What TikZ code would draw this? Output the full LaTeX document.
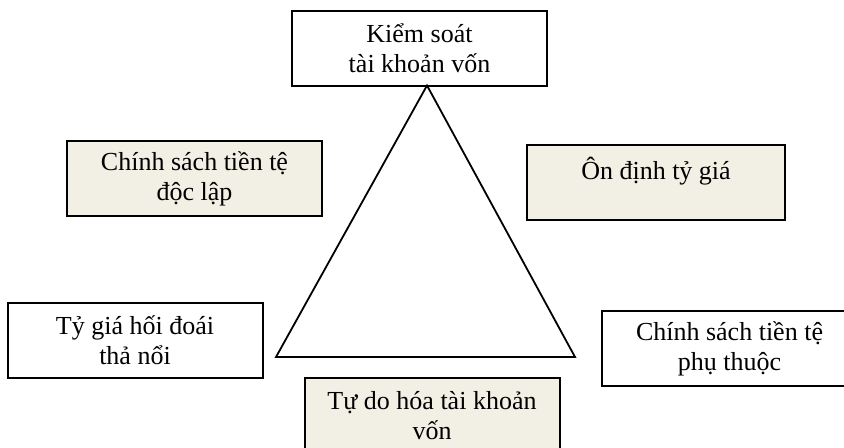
\documentclass[tikz,border=0pt]{standalone}
\usepackage{fontspec}
\setmainfont{Liberation Serif}
\definecolor{paper}{RGB}{242,239,228}

\begin{document}
\begin{tikzpicture}
[
	x=0.5pt,y=-0.5pt,
	box/.style={draw,line width=1pt,align=center,inner sep=0pt,minimum width=127.5pt,minimum height=37.5pt,font=\fontsize{13pt}{15pt}\selectfont},
	shaded/.style={box,fill=paper}
]

	\useasboundingbox (0,0) rectangle (844,448);
	\clip (0,0) rectangle (844,448);

	\node[box] at (419.5,48.5) (ctrl) {Kiểm soát\\tài khoản vốn};
	\node[shaded] at (194.5,178.5) (indep) {Chính sách tiền tệ\\độc lập};
	\node[shaded,minimum width=129pt] at (656,183) (stable) {Ôn định tỷ giá\\\mbox{}};
	\node[box] at (135,340.5) (float) {Tỷ giá hối đoái\\thả nổi};
	\node[box] at (729.5,348.5) (dep) {Chính sách tiền tệ\\phụ thuộc};
	\node[shaded] at (432,415.5) (liber) {Tự do hóa tài khoản\\vốn};

	\coordinate (top) at (427,85.5);
	\coordinate (left) at (276,357);
	\coordinate (right) at (575,357);
	\draw[line width=0.9pt,line join=miter] (top) -- (left) -- (right) -- cycle;

\end{tikzpicture}
\end{document}
